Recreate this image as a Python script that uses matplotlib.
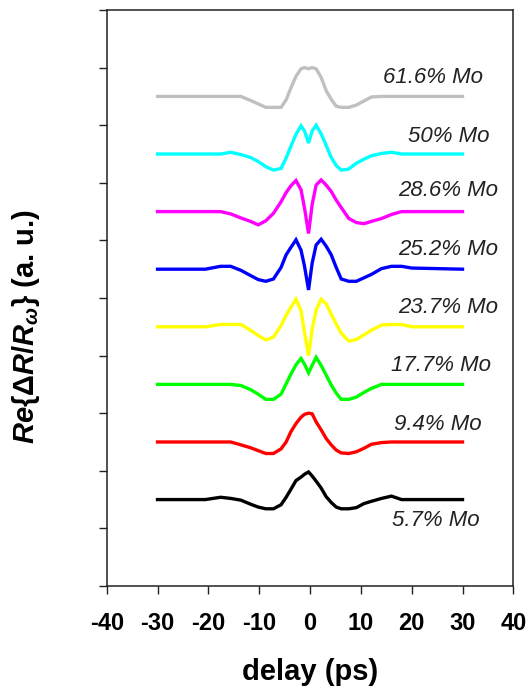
import matplotlib
matplotlib.use("Agg")
import numpy as np
import matplotlib.pyplot as plt

plt.rcParams["font.family"] = ["Liberation Sans", "DejaVu Sans"]
plt.rcParams["axes.unicode_minus"] = False
plt.rcParams["mathtext.fontset"] = "custom"
plt.rcParams["mathtext.it"] = "Liberation Sans:italic:bold"
plt.rcParams["mathtext.rm"] = "Liberation Sans:bold"
plt.rcParams["mathtext.bf"] = "Liberation Sans:bold"

# -----------------------------
# data
# -----------------------------
delay = [-30, -20.6, -17.6, -15.6, -13.6, -11.7, -10.2, -8.7, -7.2, -5.7,
         -4.7, -3.75, -2.76, -1.77, -1.08, -0.29, 0.41, 1.2, 2.19, 3.18,
         4.17, 5.15, 6.14, 7.63, 9.11, 10.6, 12.08, 14.06, 16.03, 18.0,
         20.0, 30]

mo_616 = [0, 0, 0, 0, 0, -0.07, -0.13, -0.19, -0.19, -0.19, -0.06, 0.15, 0.35, 0.48, 0.5,
          0.48, 0.5, 0.48, 0.33, 0.1, -0.05, -0.17, -0.19, -0.19, -0.15, -0.08, -0.01, 0, 0, 0, 0, 0]
mo_500 = [0, 0, 0, 0.03, -0.01, -0.06, -0.13, -0.22, -0.28, -0.25, -0.07, 0.14, 0.34, 0.49, 0.4,
          0.19, 0.4, 0.5, 0.35, 0.15, -0.06, -0.2, -0.28, -0.26, -0.16, -0.09, -0.03, 0.01, 0.03, 0, 0, 0]
mo_286 = [0, 0, 0, -0.04, -0.11, -0.17, -0.23, -0.16, -0.03, 0.17, 0.33, 0.45, 0.54, 0.38, 0.06,
          -0.38, 0.12, 0.46, 0.55, 0.46, 0.35, 0.2, 0.07, -0.12, -0.19, -0.21, -0.17, -0.12, -0.05, 0, 0, 0]
mo_252 = [0, 0, 0.05, 0.05, -0.02, -0.11, -0.18, -0.21, -0.17, 0.03, 0.25, 0.38, 0.51, 0.33, 0.05,
          -0.36, 0.1, 0.42, 0.52, 0.4, 0.25, 0.03, -0.17, -0.21, -0.21, -0.15, -0.09, 0.01, 0.05, 0.05, 0.02, 0]
mo_237 = [0, 0, 0.04, 0.04, 0.04, -0.06, -0.15, -0.23, -0.18, 0.02, 0.2, 0.34, 0.48, 0.28, -0.1,
          -0.5, -0.05, 0.29, 0.48, 0.4, 0.22, 0.05, -0.11, -0.25, -0.22, -0.14, -0.06, 0.03, 0.04, 0.04, 0, 0]
mo_177 = [0, 0, 0, 0, -0.02, -0.09, -0.17, -0.26, -0.26, -0.17, 0.01, 0.18, 0.34, 0.45, 0.35,
          0.2, 0.33, 0.47, 0.33, 0.16, -0.01, -0.15, -0.26, -0.26, -0.22, -0.14, -0.07, 0, 0, 0, 0, 0]
mo_94 = [0, 0, 0, 0, -0.05, -0.1, -0.15, -0.2, -0.2, -0.12, 0, 0.18, 0.32, 0.43, 0.48,
         0.5, 0.49, 0.35, 0.21, 0.06, -0.05, -0.14, -0.19, -0.2, -0.17, -0.11, -0.04, -0.01, 0, 0, 0, 0]
mo_57 = [0, 0, 0.04, 0.02, -0.01, -0.08, -0.13, -0.16, -0.16, -0.09, 0.04, 0.18, 0.33, 0.39, 0.44,
         0.48, 0.41, 0.32, 0.2, 0.05, -0.05, -0.13, -0.16, -0.16, -0.14, -0.07, -0.03, 0.02, 0.06, 0, 0, 0]

signals = [mo_616, mo_500, mo_286, mo_252, mo_237, mo_177, mo_94, mo_57]
labels = ["61.6% Mo", "50% Mo", "28.6% Mo", "25.2% Mo",
          "23.7% Mo", "17.7% Mo", "9.4% Mo", "5.7% Mo"]
offsets = [8.5, 7.5, 6.5, 5.5, 4.5, 3.5, 2.5, 1.5]
colors = ["#c0c0c0", "#00ffff", "#ff00ff", "#0000ff",
          "#ffff00", "#00ff00", "#ff0000", "#000000"]
label_x = [24.2, 27.2, 27.1, 27.1, 27.1, 25.7, 25.1, 24.8]
label_y = [8.82, 7.81, 6.86, 5.85, 4.83, 3.82, 2.81, 1.13]

# -----------------------------
# plot
# -----------------------------
fig = plt.figure(figsize=(5.29, 6.91), dpi=100)
ax = fig.add_axes([0.2017, 0.152, 0.7687, 0.8335])

for sig, off, col in zip(signals, offsets, colors):
    ax.plot(delay, np.array(sig) + off, color=col, linewidth=2.4,
            solid_joinstyle="miter")

for txt, lx, ly in zip(labels, label_x, label_y):
    ax.text(lx, ly, txt, ha="center", va="center", fontsize=16,
            style="italic", color="#222222")

ax.set_xlim(-40, 40)
ax.set_ylim(0, 10)
ax.set_xticks(np.arange(-40, 41, 10))
ax.set_yticks(np.arange(0, 11, 1))
ax.set_yticklabels([])
ax.tick_params(axis="both", direction="out", length=6, width=1, colors="#222222")
ax.tick_params(axis="x", pad=13, labelsize=17, labelcolor="black")
for lab in ax.get_xticklabels():
    lab.set_fontweight("bold")

for sp in ax.spines.values():
    sp.set_linewidth(1.1)
    sp.set_color("#222222")

ax.set_xlabel("delay (ps)", fontsize=21, fontweight="bold", labelpad=16)
ax.set_ylabel(r"$Re\{\mathit{\Delta}R/R_{\omega}\}$ (a. u.)", fontsize=21, fontweight="bold")
ax.yaxis.set_label_coords(-0.16, 0.45)

fig.savefig("out.png", dpi=100)
